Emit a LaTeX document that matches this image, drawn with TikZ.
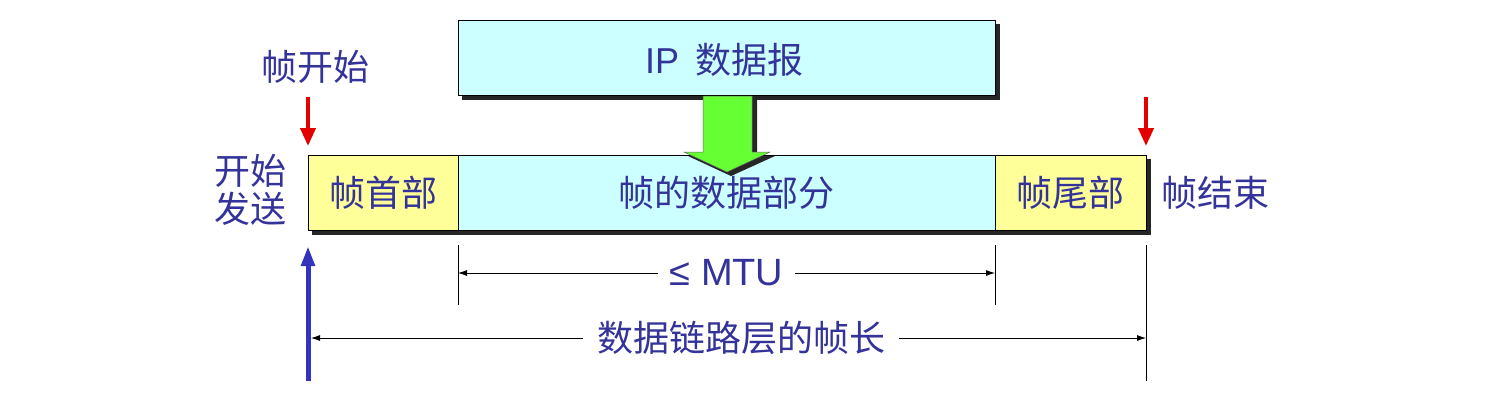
\documentclass[tikz,border=0pt]{standalone}
\usepackage{fontspec}
\newfontfamily\cjk{Noto Sans CJK SC}
\newfontfamily\lat{Liberation Sans}
\usetikzlibrary{arrows.meta}
\definecolor{txtblue}{HTML}{333399}
\definecolor{cyanbox}{HTML}{CCFFFF}
\definecolor{yelbox}{HTML}{FFFF99}
\definecolor{greenar}{HTML}{66FF33}
\definecolor{arblue}{HTML}{3333BB}
\tikzset{
  lbl/.style={text=txtblue, font=\cjk\fontsize{36}{42}\selectfont, inner sep=0pt},
  box/.style={draw=black, line width=1pt, anchor=north west, inner sep=0pt},
  shadowbox/.style={fill=black!85},
  dimline/.style={draw=black, line width=0.8pt},
  dimarrow/.style={dimline, {Latex[length=9pt,width=6pt]}-{Latex[length=9pt,width=6pt]}},
  redarrow/.style={draw=red!90!black, line width=4pt, -{Triangle[length=18pt,width=15pt]}},
  bluearrow/.style={draw=arblue, line width=5pt, -{Triangle[length=20pt,width=13pt]}},
}
\begin{document}
\begin{tikzpicture}[x=1pt,y=-1pt]
\useasboundingbox (0,0) rectangle (1490,408);
% IP datagram box
\fill[shadowbox] (462,24) rectangle (1000,100);
\node[box, fill=cyanbox, minimum width=537pt, minimum height=75pt] (ip) at (458,20) {};
\node[lbl] (iplbl) at (724,60) {{\lat IP\ \,}数据报};
% frame row shadow
\fill[shadowbox] (312,159) rectangle (1151,235);
\node[box, fill=yelbox, minimum width=150pt, minimum height=75pt] (hdr) at (308,155) {};
\node[box, fill=cyanbox, minimum width=537pt, minimum height=75pt] (data) at (458,155) {};
\node[box, fill=yelbox, minimum width=151pt, minimum height=75pt] (trl) at (995,155) {};
\node[lbl] at (383,193) {帧首部};
\node[lbl] at (726,193) {帧的数据部分};
\node[lbl] at (1070,193) {帧尾部};
% green arrow
\fill[black!85] (708,99) -- (757,99) -- (757,156) -- (775,156) -- (731,176) -- (688,156) -- (708,156) -- cycle;
\fill[greenar, draw=black!60, line width=0.5pt] (703,96) -- (752,96) -- (752,152) -- (770,152) -- (727,172) -- (684,152) -- (703,152) -- cycle;
% labels
\node[lbl] (fstart) at (315,67) {帧开始};
\node[lbl, align=center] (send) at (250,190) {开始\\[-4pt]发送};
\node[lbl] (fend) at (1215,193) {帧结束};
% red arrows
\coordinate (r1a) at (308,97); \coordinate (r1b) at (308,146);
\coordinate (r2a) at (1146,97); \coordinate (r2b) at (1146,146);
\draw[redarrow] (r1a) -- (r1b);
\draw[redarrow] (r2a) -- (r2b);
% blue arrow
\coordinate (ba) at (308,381); \coordinate (bb) at (308,246);
\draw[bluearrow] (ba) -- (bb);
% extension lines
\coordinate (e1a) at (458,245); \coordinate (e1b) at (458,305);
\coordinate (e2a) at (995,245); \coordinate (e2b) at (995,305);
\coordinate (e3a) at (1146,245); \coordinate (e3b) at (1146,381);
\draw[dimline] (e1a) -- (e1b);
\draw[dimline] (e2a) -- (e2b);
\draw[dimline] (e3a) -- (e3b);
% MTU dimension
\coordinate (m1) at (458,273); \coordinate (m2) at (995,273);
\draw[dimarrow] (m1) -- (m2) node[midway, fill=white, lbl, font=\lat\fontsize{38}{44}\selectfont, inner xsep=12pt, inner ysep=2pt] (mtu) {≤ MTU};
% frame length dimension
\coordinate (f1) at (311,338); \coordinate (f2) at (1146,338);
\draw[dimarrow] (f1) -- (f2) node[pos=0.515, fill=white, lbl, inner xsep=14pt, inner ysep=2pt] (flen) {数据链路层的帧长};
\end{tikzpicture}
\end{document}
